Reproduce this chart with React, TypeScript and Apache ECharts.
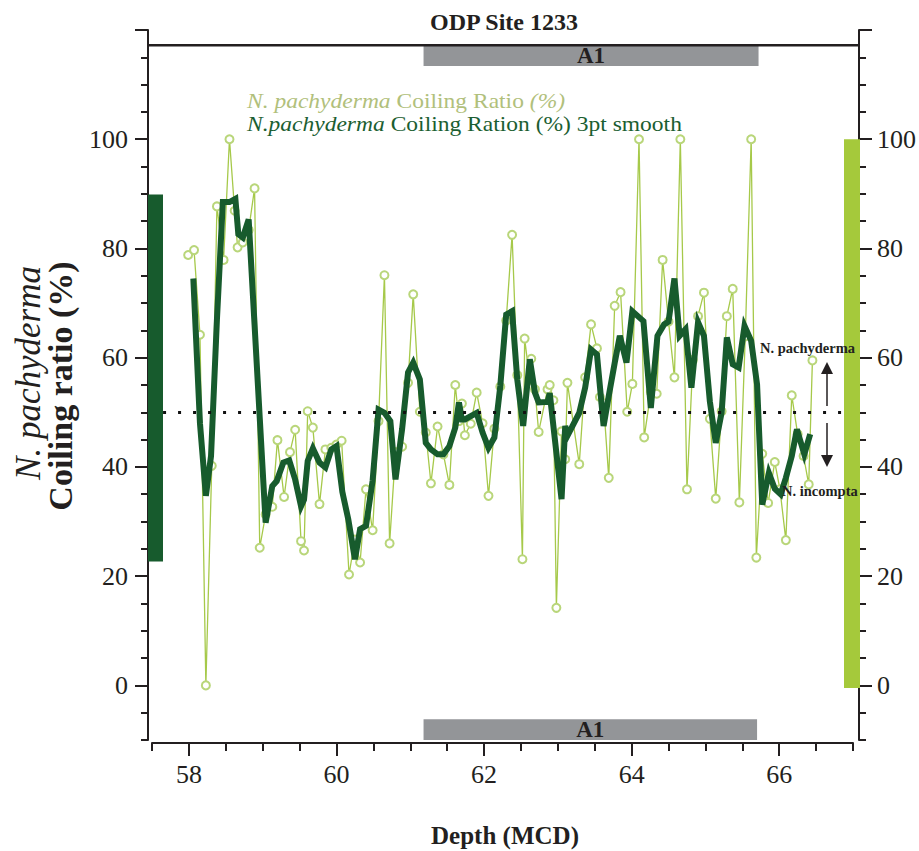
import React, { useEffect, useRef } from "react";
import * as echarts from "echarts";

// ---------- data ----------
const depthRaw = [
  57.99, 58.07, 58.15, 58.23, 58.31, 58.38, 58.47, 58.55, 58.62, 58.66, 58.73, 58.81, 58.89, 58.96,
  59.04, 59.13, 59.2, 59.29, 59.37, 59.44, 59.52, 59.56, 59.61, 59.68, 59.77, 59.85, 59.93, 60.0,
  60.07, 60.17, 60.25, 60.32, 60.4, 60.49, 60.57, 60.65, 60.72, 60.8, 60.89, 60.97, 61.04, 61.13,
  61.21, 61.28, 61.37, 61.45, 61.53, 61.61, 61.66, 61.7, 61.74, 61.82, 61.9, 61.98, 62.06, 62.14,
  62.22, 62.3, 62.38, 62.45, 62.52, 62.55, 62.62, 62.64, 62.69, 62.74, 62.86, 62.89, 62.94, 62.98,
  63.05, 63.1, 63.13, 63.29, 63.37, 63.45, 63.53, 63.57, 63.62, 63.69, 63.77, 63.85, 63.94, 64.01,
  64.1, 64.17, 64.26, 64.34, 64.42, 64.5, 64.58, 64.66, 64.75, 64.83, 64.9, 64.98, 65.06, 65.14,
  65.22, 65.29, 65.37, 65.46, 65.54, 65.62, 65.69, 65.77, 65.85, 65.94, 66.01, 66.09, 66.17, 66.25,
  66.33, 66.4, 66.45,
];
const ratioRaw = [
  78.8, 79.7, 64.2, 0, 40.2, 87.7, 77.9, 100, 86.9, 80.2, 81.1, 83.4, 91.0, 25.2,
  31.3, 32.7, 44.9, 34.5, 42.7, 46.8, 26.4, 24.7, 50.2, 47.2, 33.2, 43.2, 43.5, 44.1,
  44.8, 20.3, 26.7, 22.5, 35.9, 28.4, 48.4, 75.1, 26.0, 42.7, 43.7, 55.4, 71.6, 50.1,
  46.3, 37.0, 47.4, 42.3, 36.7, 55.0, 48.4, 51.6, 45.8, 47.9, 53.6, 48.0, 34.7, 47.0,
  54.7, 66.8, 82.5, 56.8, 23.1, 63.5, 55.9, 59.8, 54.2, 46.4, 54.2, 55.0, 52.2, 14.2,
  46.5, 41.4, 55.4, 40.5, 56.4, 66.1, 61.7, 52.8, 51.7, 38.0, 69.5, 72.0, 50.1, 55.2,
  100, 45.4, 53.7, 53.4, 77.9, 66.6, 56.4, 100, 35.9, 59.6, 67.6, 71.9, 48.8, 34.2,
  50.2, 67.6, 72.6, 33.5, 63.9, 100, 23.4, 42.4, 33.4, 40.9, 35.9, 26.6, 53.1, 46.0,
  42.0, 36.8, 59.5,
];

const depthSmooth = [
  58.06, 58.15, 58.23, 58.3, 58.38, 58.46, 58.55, 58.63, 58.67, 58.73, 58.81, 58.89, 58.96,
  59.04, 59.13, 59.19, 59.28, 59.36, 59.44, 59.52, 59.56, 59.61, 59.68, 59.77, 59.85, 59.93, 60.0,
  60.08, 60.16, 60.25, 60.32, 60.4, 60.49, 60.57, 60.65, 60.73, 60.8, 60.89, 60.97, 61.04, 61.13,
  61.21, 61.28, 61.37, 61.45, 61.53, 61.61, 61.66, 61.7, 61.74, 61.82, 61.9, 61.98, 62.06, 62.14,
  62.22, 62.3, 62.38, 62.45, 62.53, 62.62, 62.69, 62.74, 62.86, 62.89, 62.98, 63.05, 63.1, 63.13,
  63.29, 63.37, 63.45, 63.53, 63.62, 63.69, 63.77, 63.84, 63.93, 64.01, 64.16, 64.26, 64.35, 64.44,
  64.5, 64.58, 64.65, 64.73, 64.81, 64.9, 64.98, 65.06, 65.14, 65.22, 65.29, 65.37, 65.45, 65.53,
  65.62, 65.7, 65.77, 65.86, 65.94, 66.02, 66.09, 66.17, 66.24, 66.34, 66.42,
];
const ratioSmooth = [
  74.5, 48, 34.7, 42.0, 67, 88.5, 88.5, 89.1, 82.6, 82.0, 85.3, 66, 49,
  29.8, 36.5, 37.4, 40.8, 41.2, 37.7, 32.8, 34, 41.1, 43.4, 40.8, 39.9, 43.2, 43.8,
  35.4, 30.4, 23.1, 28.6, 29.2, 37.5, 50.5, 49.9, 48.4, 37.7, 47, 57.3, 59.1, 56.0,
  44.4, 43.2, 42.3, 42.3, 43.8, 47.2, 51.8, 48.7, 48.7, 49.3, 49.9, 46.3, 43.5, 45.4,
  54.8, 67.9, 68.5, 56, 47.5, 59.7, 53.6, 51.8, 51.9, 53.5, 42.6, 34.1, 47.5, 45.7,
  49.9, 54.5, 61.5, 60.6, 47.5, 53, 59, 64.0, 59.1, 68.5, 66.7, 50.8, 64.0, 66.1,
  66.6, 74.5, 64.0, 65.2, 54.5, 66.5, 64.0, 52, 44.4, 50, 63.7, 58.8, 58.2, 65.8,
  63.1, 55.1, 33.1, 38.9, 36, 35, 38, 42, 46.9, 42.3, 46.0,
];

const xTickLabels = [58, 60, 62, 64, 66];
const yTickLabels = [0, 20, 40, 60, 80, 100];
const yMajorTicks = [0, 20, 40, 60, 80, 100, 120];
const thresholdValue = [50];
const thresholdSpan = [57.65, 66.86];
const a1Depth = [61.18, 65.72];
const a1TopBand = [113.4, 117.2];
const a1BottomBand = [-10, -6.2];
const leftRange = [22.7, 89.9]; // dark green range bar
const rightRange = [-0.5, 100]; // light green range bar
const frameTopValue = 117.2;

const FONT = '"Liberation Serif", "Times New Roman", serif';
const INK = "#231f20";
const LIGHT = "#a6c94a";
const LIGHT_MARK = "#b9d67a";
const DARK = "#175b2d";

export default function App() {
  const ref = useRef<HTMLDivElement>(null);

  useEffect(() => {
    const el = ref.current as HTMLDivElement;
    const chart = echarts.init(el, null, { renderer: "svg" });

    const rawData = depthRaw.map((d, i) => [d, ratioRaw[i]]);
    const smoothData = depthSmooth.map((d, i) => [d, ratioSmooth[i]]);

    const axisLineStyle = { color: INK, width: 2 };
    const labelStyle = { color: INK, fontFamily: FONT, fontSize: 26 };

    const option: any = {
      animation: false,
      backgroundColor: "#ffffff",
      grid: { left: 152, right: 65, top: 30, bottom: 111, containLabel: false },
      xAxis: [
        {
          type: "value",
          min: 57.5,
          max: 67,
          position: "bottom",
          offset: 3,
          axisLine: { show: true, onZero: false, lineStyle: axisLineStyle },
          axisTick: { show: true, customValues: xTickLabels, length: 13, lineStyle: { color: INK, width: 2 } },
          axisLabel: { show: true, customValues: xTickLabels, margin: 18, ...labelStyle },
          splitLine: { show: false },
        },
        {
          type: "value",
          min: 57.5,
          max: 67,
          interval: 0.5,
          position: "bottom",
          offset: 3,
          axisLine: { show: false, onZero: false },
          axisTick: { show: true, length: 8, lineStyle: { color: INK, width: 2 } },
          axisLabel: { show: false },
          splitLine: { show: false },
        },
      ],
      yAxis: [
        {
          type: "value",
          min: -10,
          max: 120,
          position: "left",
          offset: 4,
          axisLine: { show: true, onZero: false, lineStyle: axisLineStyle },
          axisTick: { show: true, customValues: yMajorTicks, length: 13, lineStyle: { color: INK, width: 2 } },
          axisLabel: { show: true, customValues: yTickLabels, margin: 20, ...labelStyle },
          splitLine: { show: false },
        },
        {
          type: "value",
          min: -10,
          max: 120,
          interval: 5,
          position: "left",
          offset: 4,
          axisLine: { show: false, onZero: false },
          axisTick: { show: true, length: 7, lineStyle: { color: INK, width: 2 } },
          axisLabel: { show: false },
          splitLine: { show: false },
        },
        {
          type: "value",
          min: -10,
          max: 120,
          position: "right",
          offset: 6,
          axisLine: { show: true, onZero: false, lineStyle: axisLineStyle },
          axisTick: { show: true, customValues: yMajorTicks, length: 13, lineStyle: { color: INK, width: 2 } },
          axisLabel: { show: true, customValues: yTickLabels, margin: 18, ...labelStyle },
          splitLine: { show: false },
        },
        {
          type: "value",
          min: -10,
          max: 120,
          interval: 5,
          position: "right",
          offset: 6,
          axisLine: { show: false, onZero: false },
          axisTick: { show: true, length: 7, lineStyle: { color: INK, width: 2 } },
          axisLabel: { show: false },
          splitLine: { show: false },
        },
      ],
      series: [
        {
          name: "N. pachyderma Coiling Ratio (%)",
          type: "line",
          xAxisIndex: 0,
          yAxisIndex: 0,
          data: rawData,
          z: 2,
          symbol: "emptyCircle",
          symbolSize: 8,
          showSymbol: true,
          showAllSymbol: true,
          lineStyle: { color: LIGHT, width: 1.3 },
          itemStyle: { color: LIGHT_MARK, borderWidth: 1 },
          markArea: {
            silent: true,
            itemStyle: { color: "#939598", opacity: 1 },
            label: {
              show: true,
              position: "inside",
              color: INK,
              fontFamily: FONT,
              fontWeight: "bold",
              fontSize: 23,
            },
            data: [
              [
                { name: "A1", xAxis: a1Depth[0], yAxis: a1TopBand[0] },
                { xAxis: a1Depth[1], yAxis: a1TopBand[1] },
              ],
              [
                { name: "A1", xAxis: a1Depth[0], yAxis: a1BottomBand[0] },
                { xAxis: a1Depth[1] - 0.02, yAxis: a1BottomBand[1] },
              ],
            ],
          },
          markLine: {
            silent: true,
            symbol: ["none", "none"],
            label: { show: false },
            lineStyle: { color: "#111111", width: 3, type: [3, 12], cap: "butt" },
            data: [
              [
                { coord: [thresholdSpan[0], thresholdValue[0]] },
                { coord: [thresholdSpan[1], thresholdValue[0]] },
              ],
            ],
          },
        },
        {
          name: "N.pachyderma Coiling Ration (%) 3pt smooth",
          type: "line",
          xAxisIndex: 0,
          yAxisIndex: 0,
          data: smoothData,
          z: 3,
          symbol: "none",
          showSymbol: false,
          silent: true,
          lineStyle: { color: DARK, width: 6, join: "miter" },
        },
      ],
    };

    chart.setOption(option);

    const py = (v: number) => chart.convertToPixel({ yAxisIndex: 0 }, v) as number;
    const frameY = py(frameTopValue);

    const plainText = (x: number, y: number, text: string, extra: any, el: any = {}) => ({
      type: "text",
      z: 11,
      x,
      y,
      ...el,
      style: {
        text,
        fontFamily: FONT,
        fill: INK,
        align: "center",
        verticalAlign: "middle",
        ...extra,
      },
    });

    chart.setOption({
      graphic: [
        {
          type: "line",
          z: 10,
          shape: { x1: 148, y1: frameY, x2: 860, y2: frameY },
          style: { stroke: INK, lineWidth: 2.5 },
        },
        {
          type: "rect",
          z: 10,
          shape: { x: 148, y: py(leftRange[1]), width: 15, height: py(leftRange[0]) - py(leftRange[1]) },
          style: { fill: DARK },
        },
        {
          type: "rect",
          z: 10,
          shape: { x: 844, y: py(rightRange[1]), width: 16, height: py(rightRange[0]) - py(rightRange[1]) },
          style: { fill: "#a5c93b" },
        },
        plainText(504, 22, "ODP Site 1233", { fontWeight: "bold", fontSize: 24 }),
        {
          type: "text",
          z: 11,
          x: 247,
          y: 101,
          scaleX: 1.12,
          style: {
            text: "{i|N. pachyderma} Coiling Ratio {i|(%)}",
            fontFamily: FONT,
            fontSize: 21,
            fill: "#b1c07b",
            align: "left",
            verticalAlign: "middle",
            rich: {
              i: { fontFamily: FONT, fontSize: 21, fontStyle: "italic", fill: "#b1c07b" },
            },
          },
        },
        {
          type: "text",
          z: 11,
          x: 247,
          y: 124,
          scaleX: 1.12,
          style: {
            text: "{i|N.pachyderma} Coiling Ration (%) 3pt smooth",
            fontFamily: FONT,
            fontSize: 21,
            fill: "#1b5e31",
            align: "left",
            verticalAlign: "middle",
            rich: {
              i: { fontFamily: FONT, fontSize: 21, fontStyle: "italic", fill: "#1b5e31" },
            },
          },
        },
        plainText(28, 373, "N. pachyderma", { fontStyle: "italic", fontSize: 35 }, { rotation: Math.PI / 2 }),
        plainText(60, 386, "Coiling ratio (%)", { fontWeight: "bold", fontSize: 34 }, { rotation: Math.PI / 2 }),
        plainText(505, 835, "Depth (MCD)", { fontWeight: "bold", fontSize: 25 }),
        plainText(760, 348, "N. pachyderma", { fontWeight: "bold", fontSize: 14.5, align: "left" }, { z: 12 }),
        plainText(782, 491, "N. incompta", { fontWeight: "bold", fontSize: 14.5, align: "left" }, { z: 12 }),
        {
          type: "line",
          z: 12,
          shape: { x1: 827, y1: 406, x2: 827, y2: 372 },
          style: { stroke: INK, lineWidth: 1.5 },
        },
        {
          type: "polygon",
          z: 12,
          shape: { points: [[821, 374], [833, 374], [827, 362]] },
          style: { fill: INK },
        },
        {
          type: "line",
          z: 12,
          shape: { x1: 827, y1: 423, x2: 827, y2: 456 },
          style: { stroke: INK, lineWidth: 1.5 },
        },
        {
          type: "polygon",
          z: 12,
          shape: { points: [[821, 455], [833, 455], [827, 467]] },
          style: { fill: INK },
        },
      ],
    });

    return () => {
      chart.dispose();
    };
  }, []);

  return (
    <div
      ref={ref}
      style={{ position: "fixed", left: 0, top: 0, width: 919, height: 851, background: "#ffffff" }}
    />
  );
}
